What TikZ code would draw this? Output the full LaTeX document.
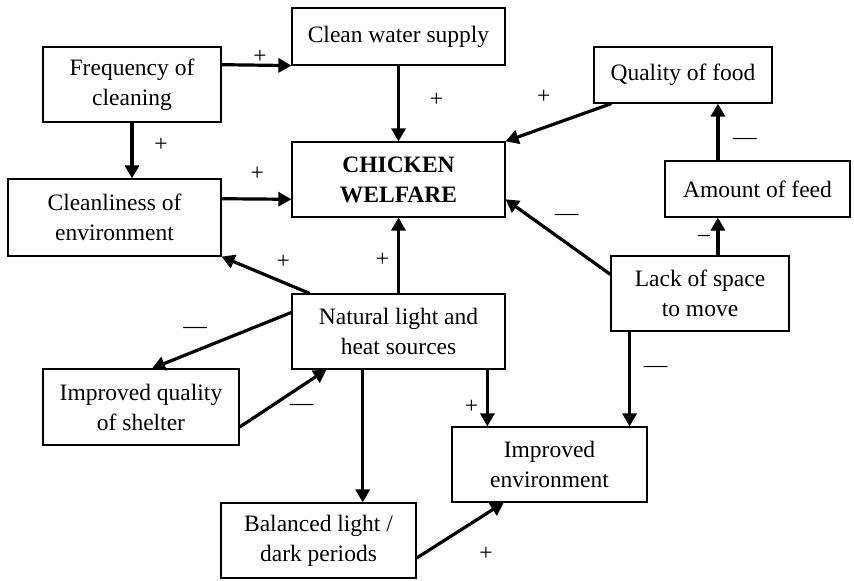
\documentclass[tikz,border=0pt]{standalone}
\usepackage{fontspec}
\setmainfont{Liberation Serif}
\usetikzlibrary{arrows.meta, calc}

\tikzset{
  box/.style={draw, line width=0.6pt, align=center, inner sep=0pt,
    font=\fontsize{11.75}{15}\selectfont},
  core/.style={box, font=\fontsize{11.75}{15}\selectfont\bfseries},
  link/.style={-{Triangle[length=6.5pt,width=7pt]}, line width=1.6pt},
  sign/.style={inner sep=0pt, font=\fontsize{11.75}{15}\selectfont}
}

\begin{document}
\begin{tikzpicture}[x=0.5pt, y=-0.5pt]
  \useasboundingbox (0,0) rectangle (854,581);

  % factors
  \node[box, minimum width=89pt, minimum height=37.5pt] (freq) at (132,84.5) {Frequency of\\cleaning};
  \node[box, minimum width=106.5pt, minimum height=28.5pt] (water) at (398.5,36.5) {Clean water supply};
  \node[core, minimum width=106.5pt, minimum height=37.5pt] (chicken) at (398.5,179.5) {CHICKEN\\WELFARE};
  \node[box, minimum width=106.5pt, minimum height=38.5pt] (clean) at (114.5,217.5) {Cleanliness of\\environment};
  \node[box, minimum width=89pt, minimum height=28pt] (food) at (683,75) {Quality of food};
  \node[box, minimum width=92.5pt, minimum height=28pt] (feed) at (757.5,189) {Amount of feed};
  \node[box, minimum width=89pt, minimum height=37.5pt] (lack) at (700,293.5) {Lack of space\\to move};
  \node[box, minimum width=106.5pt, minimum height=37.5pt] (natural) at (398.5,331.5) {Natural light and\\heat sources};
  \node[box, minimum width=98pt, minimum height=38pt] (shelter) at (141,407) {Improved quality\\of shelter};
  \node[box, minimum width=97.5pt, minimum height=37.5pt] (impenv) at (549.5,464.5) {Improved\\environment};
  \node[box, minimum width=97.5pt, minimum height=37.5pt] (balanced) at (318.5,540.5) {Balanced light /\\dark periods};

  % anchor points for the straight drops
  \coordinate (lt) at ($(lack.north west)!0.6!(lack.north east)$);
  \coordinate (nl) at ($(natural.south west)!0.333!(natural.south east)$);
  \coordinate (nr) at ($(natural.south west)!0.915!(natural.south east)$);
  \coordinate (ls) at ($(lack.south west)!0.107!(lack.south east)$);

  % influences
  \draw[link] ($(freq.north east)!0.24!(freq.south east)$) -- (water.south west)
    node[sign, pos=.55, yshift=4pt] {+};
  \draw[link] (freq.south) -- (freq.south |- clean.north)
    node[sign, pos=.4, xshift=14.5pt] {+};
  \draw[link] (water.south) -- (chicken.north)
    node[sign, pos=.45, xshift=19pt] {+};
  \draw[link] ($(clean.north east)!0.26!(clean.south east)$) -- ($(chicken.north west)!0.76!(chicken.south west)$)
    node[sign, pos=.51, yshift=12.5pt] {+};
  \draw[link] ($(food.south west)!0.1!(food.south east)$) -- (chicken.north east)
    node[sign, pos=.64, yshift=15.5pt] {+};
  \draw[link] (lt |- feed.north) -- (lt |- food.south)
    node[sign, pos=.33, xshift=13.5pt] {—};
  \draw[link] (lt) -- (lt |- feed.south)
    node[sign, pos=.44, xshift=-7pt] {–};
  \draw[link] ($(lack.north west)!0.25!(lack.south west)$) -- ($(chicken.north east)!0.76!(chicken.south east)$)
    node[sign, pos=.415, yshift=13pt] {—};
  \draw[link] (natural.north) -- (chicken.south)
    node[sign, pos=.44, xshift=-8pt] {+};
  \draw[link] ($(natural.north west)!0.085!(natural.north east)$) -- (clean.south east)
    node[sign, pos=.3, yshift=10pt] {+};
  \draw[link] ($(natural.north west)!0.25!(natural.south west)$) -- ($(shelter.north west)!0.556!(shelter.north east)$)
    node[sign, pos=.69, yshift=10.5pt] {—};
  \draw[link] ($(shelter.north east)!0.76!(shelter.south east)$) -- ($(natural.south west)!0.164!(natural.south east)$)
    node[sign, pos=.716, yshift=-10.75pt] {—};
  \draw[link] (nl) -- (nl |- balanced.north);
  \draw[link] (nr) -- (nr |- impenv.north)
    node[sign, pos=.655, xshift=-8pt] {+};
  \draw[link] (ls) -- (ls |- impenv.north)
    node[sign, pos=.4, xshift=13pt] {—};
  \draw[link] ($(balanced.north east)!0.73!(balanced.south east)$) -- ($(impenv.south west)!0.267!(impenv.south east)$)
    node[sign, pos=.795, yshift=-19.75pt] {+};
\end{tikzpicture}
\end{document}
